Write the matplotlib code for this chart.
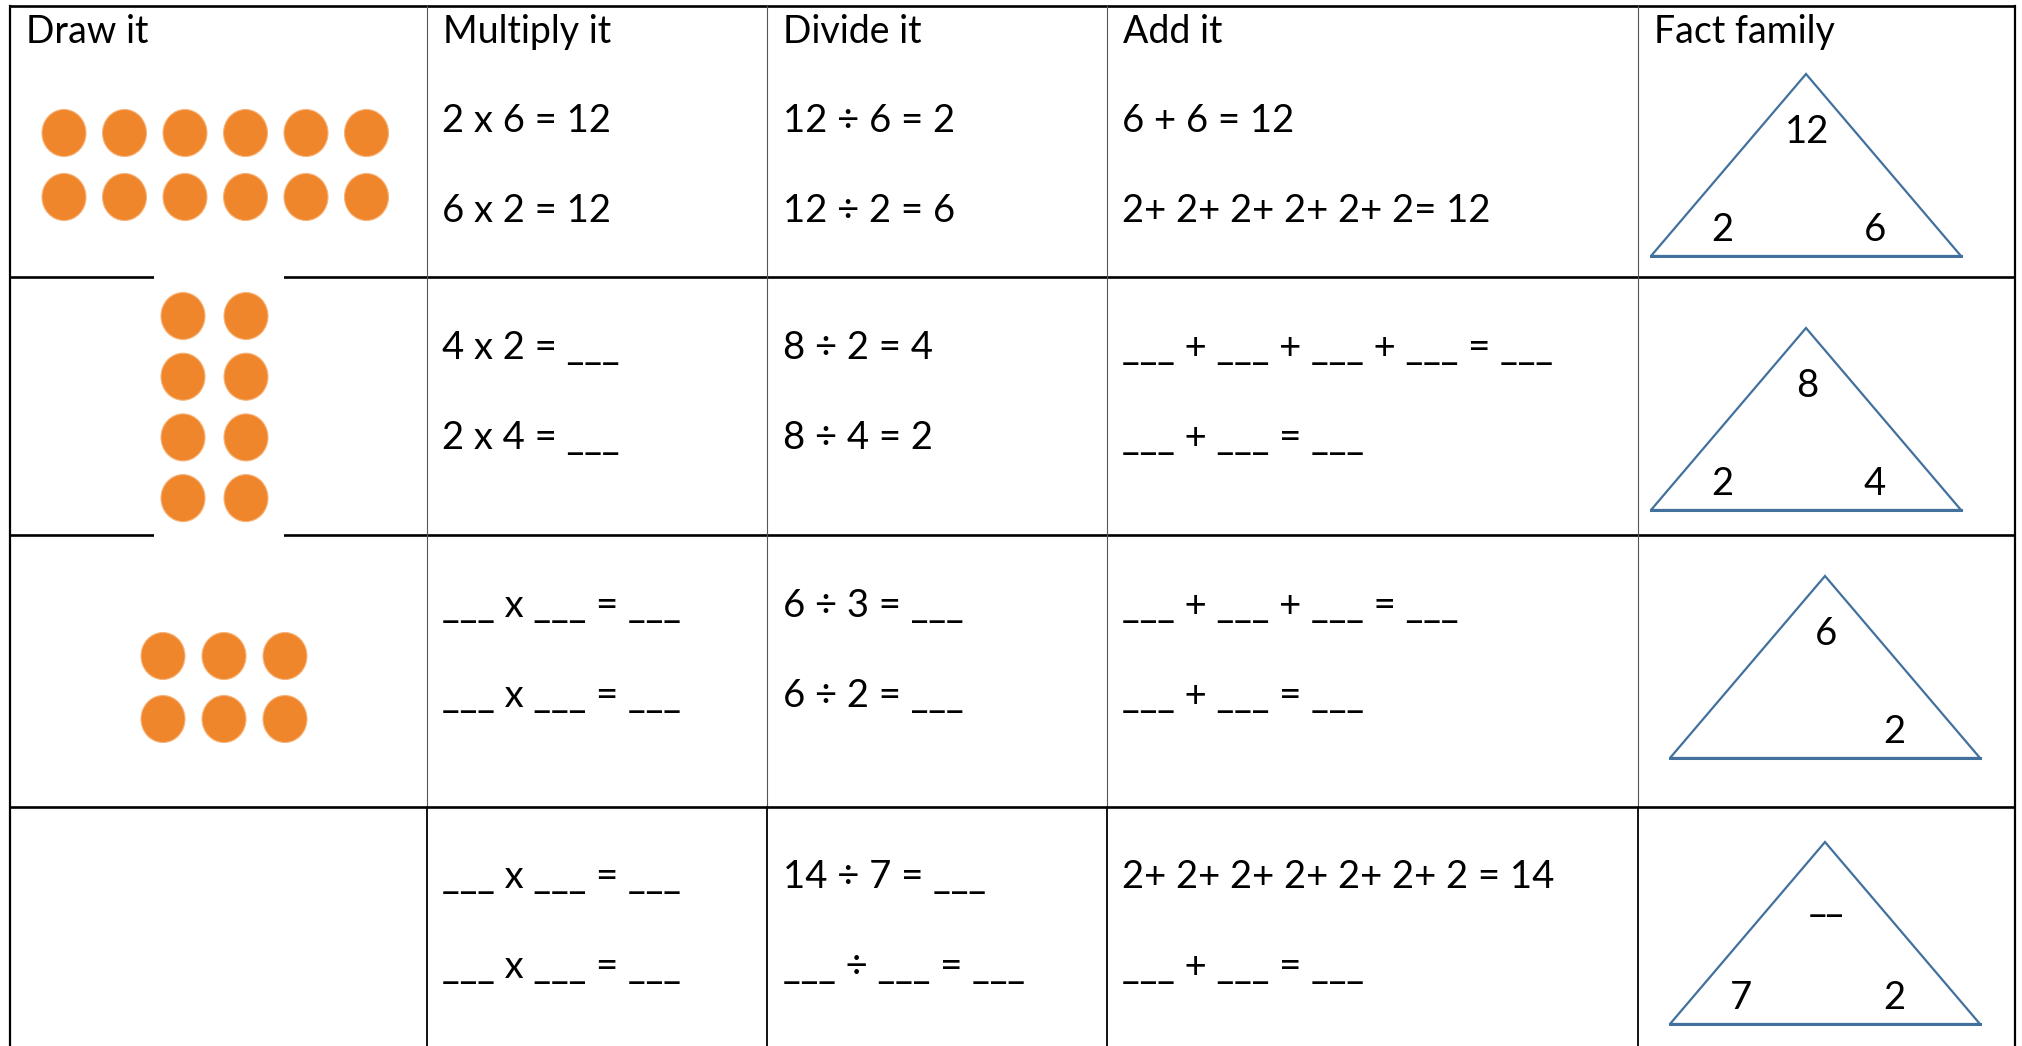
import numpy as np
import matplotlib
matplotlib.use('Agg')
import matplotlib.pyplot as plt
from matplotlib.patches import Ellipse, Polygon, Rectangle

# worksheet content
headers = ['Draw it', 'Multiply it', 'Divide it', 'Add it', 'Fact family']
multiply = [['2 x 6 = 12', '6 x 2 = 12'],
            ['4 x 2 = ___', '2 x 4 = ___'],
            ['___ x ___ = ___', '___ x ___ = ___'],
            ['___ x ___ = ___', '___ x ___ = ___']]
divide = [['12 ÷ 6 = 2', '12 ÷ 2 = 6'],
          ['8 ÷ 2 = 4', '8 ÷ 4 = 2'],
          ['6 ÷ 3 = ___', '6 ÷ 2 = ___'],
          ['14 ÷ 7 = ___', '___ ÷ ___ = ___']]
add = [['6 + 6 = 12', '2+ 2+ 2+ 2+ 2+ 2= 12'],
       ['___ + ___ + ___ + ___ = ___', '___ + ___ = ___'],
       ['___ + ___ + ___ = ___', '___ + ___ = ___'],
       ['2+ 2+ 2+ 2+ 2+ 2+ 2 = 14', '___ + ___ = ___']]
tri_top = ['12', '8', '6', '__']
tri_left = ['2', '2', '', '7']
tri_right = ['6', '4', '2', '2']
dot_rows = [2, 4, 2, 0]
dot_cols = [6, 2, 3, 0]

# layout (pixel coords, y downwards)
W, H = 2022, 1046
col_x = [10, 427, 767, 1107, 1638, 2015]
row_y = [6, 277, 535, 807]
eq_base = [(132, 222), (359, 449), (617, 707), (888, 978)]
dot_grid = [(64, 133, 60.5, 64), (183, 316, 63, 60.7), (163, 656, 61, 63), None]
apex = [(1806, 74), (1806, 328), (1825, 576), (1825, 842)]
tri_half, tri_h = 155, 182
orange = '#F0862C'
blue = '#41719C'
FONT = ['Lato', 'DejaVu Sans']
FS = 27.5

fig = plt.figure(figsize=(W / 100, H / 100), dpi=100)
ax = fig.add_axes([0, 0, 1, 1])
ax.set_xlim(0, W)
ax.set_ylim(H, 0)
ax.axis('off')

# table grid
for y in row_y:
    ax.plot([col_x[0], col_x[-1]], [y, y], color='black', lw=1.9, zorder=2, solid_capstyle='butt')
for i, x in enumerate(col_x):
    if i in (0, len(col_x) - 1):
        ax.plot([x, x], [row_y[0], H], color='black', lw=1.6, zorder=2)
    else:
        ax.plot([x, x], [row_y[0], row_y[3]], color='#555555', lw=0.8, zorder=2)
        ax.plot([x, x], [row_y[3], H], color='black', lw=1.3, zorder=2)

# white picture background of the 4x2 dots covering the row lines
ax.add_patch(Rectangle((154, 274), 130, 264, facecolor='white', edgecolor='none', zorder=3))

# headers
for h, x in zip(headers, col_x):
    ax.text(x + 16, 43, h, fontsize=27, family=FONT, va='baseline', ha='left', zorder=5)

# equations
for r in range(4):
    for k in range(2):
        yb = eq_base[r][k]
        ax.text(col_x[1] + 15, yb, multiply[r][k], fontsize=FS, family=FONT, va='baseline', zorder=5)
        ax.text(col_x[2] + 16, yb, divide[r][k], fontsize=FS, family=FONT, va='baseline', zorder=5)
        ax.text(col_x[3] + 15, yb, add[r][k], fontsize=FS, family=FONT, va='baseline', zorder=5)

# dot arrays
for r in range(4):
    if dot_rows[r] == 0:
        continue
    x0, y0, dx, dy = dot_grid[r]
    for i in range(dot_rows[r]):
        for j in range(dot_cols[r]):
            ax.add_patch(Ellipse((x0 + j * dx, y0 + i * dy), 44, 47,
                                 facecolor=orange, edgecolor='#F6B47A', lw=0.8, zorder=4))

# fact family triangles
for r in range(4):
    ax_, ay = apex[r]
    by = ay + tri_h
    tri = Polygon([(ax_, ay), (ax_ - tri_half, by), (ax_ + tri_half, by)], closed=True,
                  fill=False, edgecolor=blue, lw=1.6, zorder=4)
    ax.add_patch(tri)
    ax.plot([ax_ - tri_half, ax_ + tri_half], [by, by], color=blue, lw=2.2, zorder=4)
    ax.text(ax_ + 1, ay + 69, tri_top[r], fontsize=FS, family=FONT, ha='center', va='baseline', zorder=5)
    ax.text(ax_ - 84, by - 15, tri_left[r], fontsize=FS, family=FONT, ha='center', va='baseline', zorder=5)
    ax.text(ax_ + 69, by - 15, tri_right[r], fontsize=FS, family=FONT, ha='center', va='baseline', zorder=5)

fig.savefig('out.png', dpi=100, facecolor='white')
